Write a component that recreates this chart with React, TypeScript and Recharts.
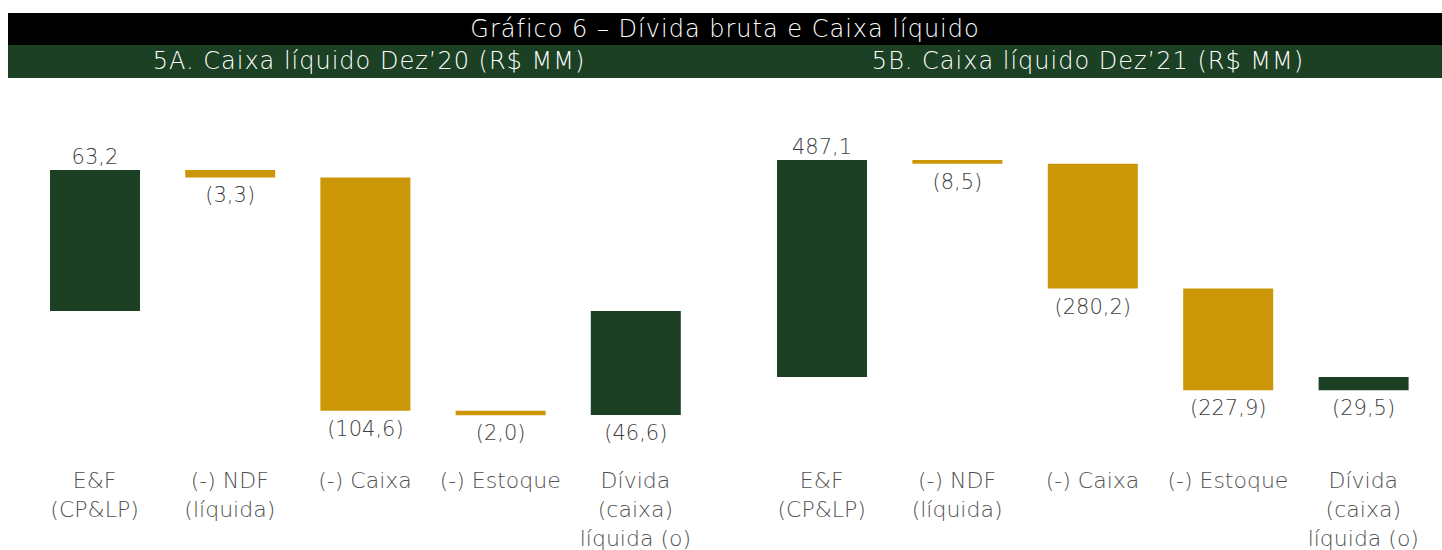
import { Bar, BarChart, Cell, LabelList, XAxis, YAxis } from "recharts";

const categories = ["E&F\n(CP&LP)", "(-) NDF\n(líquida)", "(-) Caixa", "(-) Estoque", "Dívida\n(caixa)\nlíquida (o)"];
const values20 = [63.2, -3.3, -104.6, -2.0, -46.6];
const values21 = [487.1, -8.5, -280.2, -227.9, -29.5];

const GREEN = "#1b4023";
const GOLD = "#cc9707";
const FONT = "'DejaVu Sans', Lato, sans-serif";
const WEIGHT = 200;

// first and last bars start at zero, the middle ones float on the running total
function buildWaterfall(values: number[]) {
  let running = 0;
  return values.map((v, i) => {
    const isTotal = i === 0 || i === values.length - 1;
    const start = isTotal ? 0 : running;
    const end = start + v;
    if (i !== values.length - 1) running = end;
    return { name: categories[i], v, range: [Math.min(start, end), Math.max(start, end)], isTotal };
  });
}

const ValueLabel = (props: any) => {
  const { x, y, width, height, value } = props;
  const top = Math.min(y, y + height);
  const bottom = Math.max(y, y + height);
  const neg = value < 0;
  const txt = Math.abs(value).toFixed(1).replace(".", ",");
  return (
    <text x={x + width / 2} y={neg ? bottom + 25 : top - 6} textAnchor="middle" fill="#404040" fontSize={21} fontWeight={WEIGHT} fontFamily={FONT}>
      {neg ? `(${txt})` : txt}
    </text>
  );
};

const CategoryTick = ({ x, y, payload }: any) => {
  const lines = String(payload.value).split("\n");
  return (
    <text x={x} y={y} textAnchor="middle" fill="#505050" fontSize={22} fontWeight={WEIGHT} fontFamily={FONT}>
      {lines.map((l, i) => (
        <tspan key={i} x={x} dy={i === 0 ? 30 : 29}>{l}</tspan>
      ))}
    </text>
  );
};

interface WaterfallProps {
  values: number[];
  width: number;
  domain: [number, number];
  left: number;
  right: number;
}

const Waterfall = ({ values, width, domain, left, right }: WaterfallProps) => {
  const data = buildWaterfall(values);
  return (
    <BarChart width={width} height={472} data={data} margin={{ top: 32, right, left, bottom: 20 }}>
      <XAxis dataKey="name" axisLine={false} tickLine={false} height={80} interval={0} tick={<CategoryTick />} />
      <YAxis hide domain={domain} allowDataOverflow />
      <Bar dataKey="range" barSize={90} isAnimationActive={false}>
        {data.map((d, i) => (
          <Cell key={i} fill={d.isTotal ? GREEN : GOLD} />
        ))}
        <LabelList dataKey="v" content={<ValueLabel />} />
      </Bar>
    </BarChart>
  );
};

export default function App() {
  return (
    <div style={{ position: "absolute", top: 0, left: 0, width: 1442, height: 550, overflow: "hidden", background: "#fff", fontFamily: FONT, fontWeight: WEIGHT }}>
      <div style={{ position: "absolute", top: 13, left: 8, width: 1434, height: 32, background: "#000", color: "#fff", textAlign: "center", fontSize: 24, letterSpacing: 1, lineHeight: "32px", whiteSpace: "nowrap" }}>
        Gráfico 6 – Dívida bruta e Caixa líquido
      </div>
      <div style={{ position: "absolute", top: 45, left: 8, width: 1434, height: 33, background: GREEN, color: "#fff", fontSize: 24, letterSpacing: 1, lineHeight: "33px" }}>
        <span style={{ position: "absolute", left: 361, transform: "translateX(-50%)", whiteSpace: "nowrap" }}>
          5A. Caixa líquido Dez’20 (R$ MM)
        </span>
        <span style={{ position: "absolute", left: 1080, transform: "translateX(-50%)", whiteSpace: "nowrap" }}>
          5B. Caixa líquido Dez’21 (R$ MM)
        </span>
      </div>
      <div style={{ position: "absolute", top: 78, left: 8, display: "flex" }}>
        <Waterfall values={values20} width={712} domain={[-62.3, 90.1]} left={19} right={17} />
        <Waterfall values={values21} width={722} domain={[-163.9, 599.3]} left={34} right={11} />
      </div>
    </div>
  );
}
